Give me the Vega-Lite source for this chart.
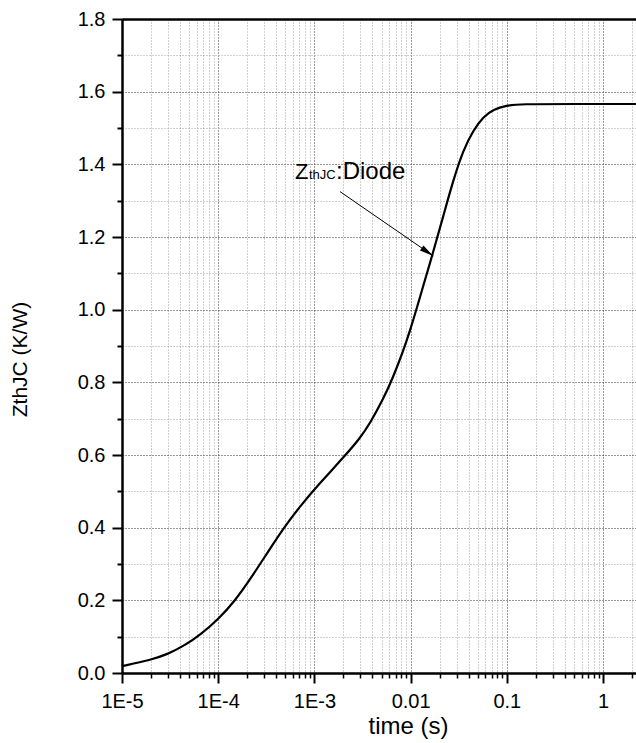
{
  "$schema": "https://vega.github.io/schema/vega-lite/v6.json",
  "width": 514,
  "height": 654,
  "autosize": {"type": "none"},
  "padding": {"left": 122, "top": 19, "right": 0, "bottom": 70},
  "background": "white",
  "config": {
    "view": {"stroke": null},
    "font": "Liberation Sans",
    "axis": {"labelFont": "Liberation Sans", "titleFont": "Liberation Sans", "labelColor": "#000", "titleColor": "#000", "titleFontWeight": "normal", "domainColor": "#000", "tickColor": "#000"}
  },
  "datasets": {
    "curve": [
      {"t": 1e-5, "z": 0.019},
      {"t": 2e-5, "z": 0.036},
      {"t": 3e-5, "z": 0.052},
      {"t": 4.5e-5, "z": 0.076},
      {"t": 6.7e-5, "z": 0.108},
      {"t": 1e-4, "z": 0.148},
      {"t": 1.48e-4, "z": 0.197},
      {"t": 2.2e-4, "z": 0.262},
      {"t": 3.3e-4, "z": 0.334},
      {"t": 4.9e-4, "z": 0.403},
      {"t": 7.3e-4, "z": 0.463},
      {"t": 1.1e-3, "z": 0.518},
      {"t": 2e-3, "z": 0.593},
      {"t": 3e-3, "z": 0.647},
      {"t": 3.8e-3, "z": 0.688},
      {"t": 5.2e-3, "z": 0.754},
      {"t": 6.6e-3, "z": 0.815},
      {"t": 8.4e-3, "z": 0.887},
      {"t": 9.9e-3, "z": 0.944},
      {"t": 0.0116, "z": 1.004},
      {"t": 0.0136, "z": 1.068},
      {"t": 0.0159, "z": 1.128},
      {"t": 0.0172, "z": 1.16},
      {"t": 0.0219, "z": 1.258},
      {"t": 0.0278, "z": 1.357},
      {"t": 0.0353, "z": 1.44},
      {"t": 0.0449, "z": 1.494},
      {"t": 0.057, "z": 1.531},
      {"t": 0.0724, "z": 1.551},
      {"t": 0.0995, "z": 1.562},
      {"t": 0.137, "z": 1.566},
      {"t": 0.5, "z": 1.566},
      {"t": 2.2, "z": 1.566}
    ]
  },
  "resolve": {"axis": {"x": "independent", "y": "independent"}},
  "layer": [
    {
      "data": {"name": "curve"},
      "mark": {"type": "point", "opacity": 0},
      "encoding": {
        "x": {"field": "t", "type": "quantitative",
          "scale": {"type": "log", "domain": [1e-5, 2.203], "nice": false},
          "axis": {"orient": "bottom", "values": [2e-5,3e-5,4e-5,5e-5,6e-5,7e-5,8e-5,9e-5,2e-4,3e-4,4e-4,5e-4,6e-4,7e-4,8e-4,9e-4,2e-3,3e-3,4e-3,5e-3,6e-3,7e-3,8e-3,9e-3,0.02,0.03,0.04,0.05,0.06,0.07,0.08,0.09,0.2,0.3,0.4,0.5,0.6,0.7,0.8,0.9,2],
            "labels": false, "title": null, "domain": false, "tickSize": 5, "tickWidth": 1.5,
            "grid": true, "gridColor": "#a0a0a0", "gridDash": [1, 2], "gridWidth": 1}},
        "y": {"field": "z", "type": "quantitative",
          "scale": {"domain": [0, 1.8], "nice": false, "zero": false},
          "axis": {"orient": "left", "values": [0.1,0.3,0.5,0.7,0.9,1.1,1.3,1.5,1.7],
            "labels": false, "title": null, "domain": false, "tickSize": 5, "tickWidth": 2,
            "grid": true, "gridColor": "#a0a0a0", "gridDash": [1, 2], "gridWidth": 1}}
      }
    },
    {
      "data": {"name": "curve"},
      "mark": {"type": "line", "color": "#000", "strokeWidth": 2.2, "interpolate": "basis"},
      "encoding": {
        "x": {"field": "t", "type": "quantitative",
          "scale": {"type": "log", "domain": [1e-5, 2.203], "nice": false},
          "axis": {"orient": "bottom", "values": [1e-5, 1e-4, 1e-3, 0.01, 0.1, 1],
            "labelExpr": "datum.value < 0.005 ? '1E' + round(log(datum.value) / LN10) : '' + datum.value",
            "labelFontSize": 20, "labelPadding": 8, "labelFlush": false, "labelOverlap": false,
            "title": "time (s)", "titleFontSize": 24, "titlePadding": 3, "titleX": 286,
            "domain": true, "domainWidth": 2.5, "tickSize": 10, "tickWidth": 2,
            "grid": true, "gridColor": "#333333", "gridDash": [1, 2], "gridWidth": 1}},
        "y": {"field": "z", "type": "quantitative",
          "scale": {"domain": [0, 1.8], "nice": false, "zero": false},
          "axis": {"orient": "left", "values": [0, 0.2, 0.4, 0.6, 0.8, 1.0, 1.2, 1.4, 1.6, 1.8],
            "format": ".1f", "labelFontSize": 20, "labelPadding": 7, "labelFlush": false, "labelOverlap": false,
            "title": "ZthJC (K/W)", "titleFontSize": 21, "titlePadding": 47, "titleY": 340,
            "domain": true, "domainWidth": 2.5, "tickSize": 10, "tickWidth": 2,
            "grid": true, "gridColor": "#333333", "gridDash": [1, 2], "gridWidth": 1}}
      }
    },
    {
      "data": {"values": [{"t": 1e-5}, {"t": 2.203}]},
      "mark": {"type": "point", "opacity": 0},
      "encoding": {
        "x": {"field": "t", "type": "quantitative",
          "scale": {"type": "log", "domain": [1e-5, 2.203], "nice": false},
          "axis": {"orient": "top", "labels": false, "ticks": false, "grid": false, "title": null,
            "domain": true, "domainWidth": 2.5}}
      }
    },
    {
      "data": {"values": [{"t": 0.001845, "z": 1.325, "t2": 0.0172, "z2": 1.148}]},
      "mark": {"type": "rule", "color": "#000", "strokeWidth": 1},
      "encoding": {
        "x": {"field": "t", "type": "quantitative", "axis": null},
        "y": {"field": "z", "type": "quantitative", "axis": null},
        "x2": {"field": "t2"},
        "y2": {"field": "z2"}
      }
    },
    {
      "data": {"values": [{"t": 0.0172, "z": 1.148}]},
      "mark": {"type": "point", "shape": "M0,0L-1,-0.22L-1,0.22Z", "size": 784, "angle": 34.6, "filled": true, "color": "#000", "opacity": 1},
      "encoding": {
        "x": {"field": "t", "type": "quantitative", "axis": null},
        "y": {"field": "z", "type": "quantitative", "axis": null}
      }
    },
    {
      "data": {"values": [{"t": 6.28e-4, "z": 1.36, "label": "Z"}]},
      "mark": {"type": "text", "align": "left", "baseline": "alphabetic", "fontSize": 22, "font": "Liberation Sans", "color": "#000"},
      "encoding": {
        "x": {"field": "t", "type": "quantitative", "axis": null},
        "y": {"field": "z", "type": "quantitative", "axis": null},
        "text": {"field": "label"}
      }
    },
    {
      "data": {"values": [{"t": 6.28e-4, "z": 1.36, "label": "thJC"}]},
      "mark": {"type": "text", "align": "left", "baseline": "alphabetic", "fontSize": 13, "dx": 14, "font": "Liberation Sans", "color": "#000"},
      "encoding": {
        "x": {"field": "t", "type": "quantitative", "axis": null},
        "y": {"field": "z", "type": "quantitative", "axis": null},
        "text": {"field": "label"}
      }
    },
    {
      "data": {"values": [{"t": 6.28e-4, "z": 1.36, "label": ":Diode"}]},
      "mark": {"type": "text", "align": "left", "baseline": "alphabetic", "fontSize": 24, "dx": 41, "font": "Liberation Sans", "color": "#000"},
      "encoding": {
        "x": {"field": "t", "type": "quantitative", "axis": null},
        "y": {"field": "z", "type": "quantitative", "axis": null},
        "text": {"field": "label"}
      }
    }
  ]
}
